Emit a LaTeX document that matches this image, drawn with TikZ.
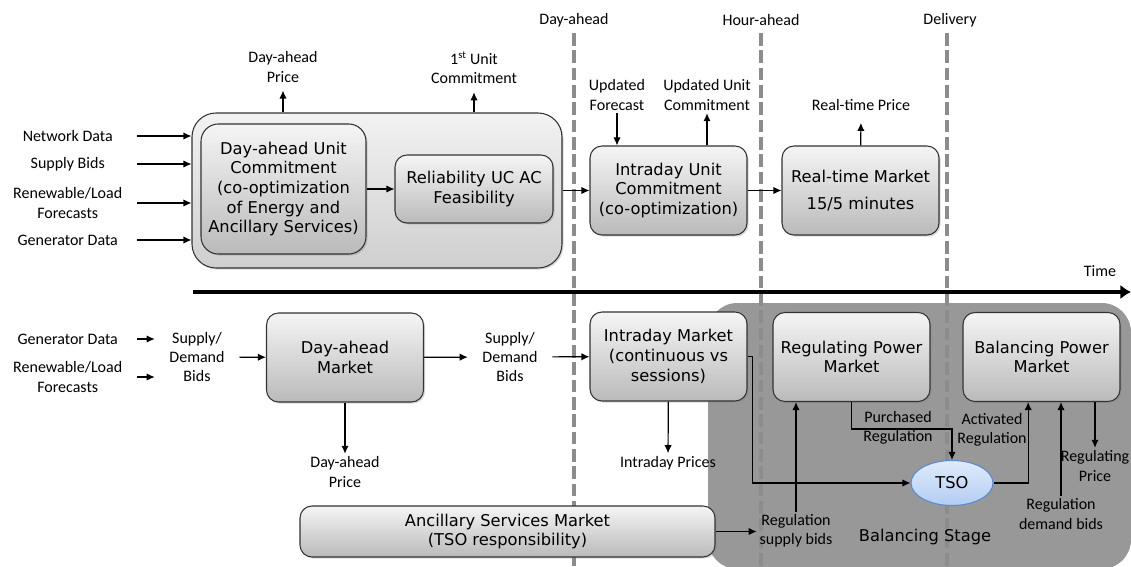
\documentclass[tikz,border=0pt]{standalone}
\usepackage{fontspec}
\setmainfont{Carlito}
\newfontfamily\boxfont{DejaVu Sans}
\usepackage{tikz}
\usetikzlibrary{arrows.meta, shadows, shapes.geometric}
\definecolor{stagegray}{RGB}{152,152,152}
\definecolor{tsoline}{RGB}{90,138,208}
\definecolor{tsotop}{RGB}{224,235,252}
\definecolor{tsobot}{RGB}{178,204,243}

\begin{document}
\begin{tikzpicture}[x=0.75pt, y=-0.75pt,
	lbl/.style={font=\fontsize{12}{14.5}\selectfont, align=center, inner sep=2pt},
	inp/.style={lbl, anchor=east, minimum width=103.5pt},
	bx/.style={draw=black!80, line width=0.8pt, rounded corners=9pt,
	top color=black!4, bottom color=black!27, align=center, inner sep=2pt,
	font=\boxfont\fontsize{12.2}{14.8}\selectfont,
	drop shadow={shadow xshift=1.2pt, shadow yshift=-1.2pt, opacity=0.3},
	minimum width=117.75pt, minimum height=66.75pt},
	arr/.style={-{Latex[length=6pt,width=5.5pt]}, line width=0.9pt},
	dline/.style={draw=black!45, line width=3pt, dash pattern=on 9.5pt off 3.5pt}]
\useasboundingbox (0,0) rectangle (1131,567);
% balancing stage
\fill[stagegray, rounded corners=22pt] (708,303) rectangle (1131,569);
% time marks
\draw[dline] (574,33) -- (574,567);
\draw[dline] (761,33) -- (761,567);
\draw[dline] (947,33) -- (947,567);
\node[lbl] (34) at (574,20) {Day-ahead};
\node[lbl] (35) at (761,20) {Hour-ahead};
\node[lbl] (36) at (950,20) {Delivery};
\draw[line width=3.6pt, -{Latex[length=8pt,width=11pt]}] (193,292) -- (1131,292);
\node[lbl] (33) at (1100,271) {Time};

% top row
\node[bx, rounded corners=18pt, top color=black!5, bottom color=black!19,
	minimum width=277.5pt, minimum height=116.25pt] (1) at (377,190.5) {};
\node[bx, rounded corners=13pt, minimum width=123.75pt, minimum height=97.5pt]
	(2) at (283.5,189) {Day-ahead Unit\\Commitment\\(co-optimization\\of Energy and\\Ancillary Services)};
\node[bx, minimum width=118.5pt, minimum height=51pt] (3) at (474,189) {Reliability UC AC\\Feasibility};
\node[bx] (4) at (668.5,190.5) {Intraday Unit\\Commitment\\(co-optimization)};
\node[bx] (5) at (860.5,190.5) {Real-time Market\\[5pt]15/5 minutes};

\node[inp] (12) at (137,136) {Network Data};
\node[inp] (13) at (137,164) {Supply Bids};
\node[inp] (14) at (137,203) {Renewable/Load\\Forecasts};
\node[inp] (15) at (137,240) {Generator Data};
\node[lbl] (16) at (283,67) {Day-ahead\\Price};
\node[lbl] (17) at (474,68) {1\textsuperscript{st} Unit\\Commitment};
\node[lbl] (18) at (617,95) {Updated\\Forecast};
\node[lbl] (19) at (707,95) {Updated Unit\\Commitment};
\node[lbl] (20) at (861,105) {Real-time Price};

\draw[arr] (12) -- (12 -| 1.west);
\draw[arr] (13) -- (13 -| 1.west);
\draw[arr] (14) -- (14 -| 1.west);
\draw[arr] (15) -- (15 -| 1.west);
\draw[arr, shorten >=4pt] (1.north -| 16) -- (16);
\draw[arr, shorten >=4pt] (1.north -| 17) -- (17);
\draw[arr] (2) -- (3);
\draw[arr] (1) -- (4);
\draw[arr] (18) -- (18 |- 4.north);
\draw[arr] (4.north -| 19) -- (19);
\draw[arr] (4) -- (5);
\draw[arr, shorten >=7pt] (5) -- (20);

% bottom row
\node[bx] (6) at (345,357.5) {Day-ahead\\Market};
\node[bx] (7) at (668.5,356.5) {Intraday Market\\(continuous vs\\sessions)};
\node[bx] (8) at (851.5,357) {Regulating Power\\Market};
\node[bx] (9) at (1041.5,357) {Balancing Power\\Market};
\node[bx, minimum width=311.25pt, minimum height=38.25pt] (10) at (507.5,531.5)
	{Ancillary Services Market\\(TSO responsibility)};
\node[ellipse, draw=tsoline, line width=0.8pt, top color=tsotop, bottom color=tsobot,
	minimum width=61.5pt, minimum height=33.75pt,
	font=\boxfont\fontsize{12.2}{14.8}\selectfont] (11) at (952,483) {TSO};

\node[inp] (21) at (137,339) {Generator Data};
\node[inp] (22) at (137,377) {Renewable/Load\\Forecasts};
\node[lbl, minimum width=63pt] (23) at (197,357) {Supply/\\Demand\\Bids};
\node[lbl, minimum width=63pt] (24) at (510,357) {Supply/\\Demand\\Bids};
\node[lbl] (25) at (345,472) {Day-ahead\\Price};
\node[lbl] (26) at (668,463) {Intraday Prices};
\node[lbl] (27) at (796,531) {Regulation\\supply bids};
\node[lbl] (28) at (898,428) {Purchased\\Regulation};
\node[lbl] (29) at (992,430) {Activated\\Regulation};
\node[lbl] (30) at (1061,514) {Regulation\\demand bids};
\node[lbl] (31) at (1095,466) {Regulating\\Price};
\node[lbl, font=\boxfont\fontsize{12.2}{14.8}\selectfont] (32) at (925,537) {Balancing Stage};

\draw[arr] (21) -- (21 -| 23.west);
\draw[arr] (22) -- (22 -| 23.west);
\draw[arr] (23) -- (6);
\draw[arr] (6) -- (24);
\draw[arr] (24) -- (7);
\draw[arr] (6) -- (25);
\draw[arr] (7) -- (26);
\draw[arr] (7.east) -- ++(3.75pt,0) |- (11);
\draw[arr] (10) -- (10 -| 27.west);
\draw[arr] (27) -- (27 |- 8.south);
\draw[arr] (8.south) -- ++(0,-20.25pt) -| (11);
\draw[arr] (11) -| ([xshift=-10pt]9.south);
\draw[arr] (30) -- (30 |- 9.south);
\draw[arr] (31 |- 9.south) -- (31);
\end{tikzpicture}
\end{document}
